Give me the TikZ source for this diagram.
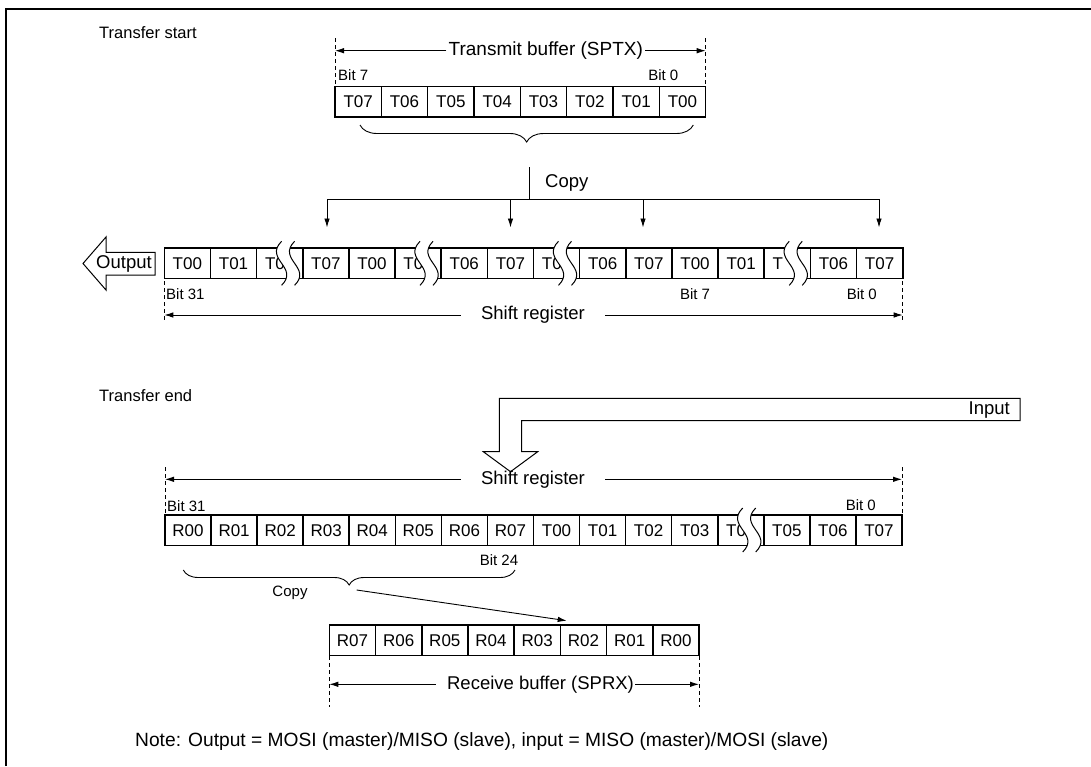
\documentclass[tikz,border=0pt]{standalone}
\usepackage{fontspec}
\setmainfont{Liberation Sans}
\usetikzlibrary{arrows.meta,decorations.pathreplacing}
\begin{document}
\begin{tikzpicture}[x=1pt,y=-1pt,
  cell/.style={draw,line width=1.6pt,minimum height=30.5pt,inner sep=0pt,font=\fontsize{17}{18}\selectfont},
  lbl/.style={font=\fontsize{18.5}{20}\selectfont,inner sep=0pt},
  small/.style={font=\fontsize{15}{16}\selectfont,inner sep=0pt},
  note/.style={font=\fontsize{16.5}{18}\selectfont,inner sep=0pt},
  thin/.style={line width=0.9pt},
  dim/.style={line width=0.9pt,-{Latex[length=9pt,width=5.5pt]}},
  dashln/.style={line width=0.8pt,dash pattern=on 4pt off 3pt},
  hollow/.style={line width=1pt,fill=white,line join=miter},
  brk/.pic={
    \fill[white] (0,0) .. controls (-18,18) and (18,26) .. (0,44) -- (13,44) .. controls (31,26) and (-5,18) .. (13,0) -- cycle;
    \draw[line width=1pt] (0,0) .. controls (-18,18) and (18,26) .. (0,44);
    \draw[line width=1pt] (13,0) .. controls (-5,18) and (31,26) .. (13,44);
  }
]
\useasboundingbox (0,0) rectangle (1091,766);
\fill[white] (0,0) rectangle (1091,766);
% frame
\draw[line width=2pt] (6,766) -- (6,8.5) -- (1091,8.5);

% ---------- Transfer start ----------
\node[note,anchor=base west] (tstart) at (99,38) {Transfer start};

% transmit buffer
\foreach \t [count=\i from 0] in {T07,T06,T05,T04,T03,T02,T01,T00}
  \node[cell,minimum width=46.33pt] (tx\i) at (335+\i*46.33+23.165,101.7) {\t};
\draw[dashln] (335,38) -- (335,85);
\draw[dashln] (705.7,38) -- (705.7,85);
\node[lbl,font=\fontsize{19}{20}\selectfont,inner xsep=2pt] (tbuf) at (545.8,50.7) {Transmit buffer (SPTX)};
\coordinate (tbL) at (335,50.7);
\coordinate (tbR) at (705.7,50.7);
\draw[dim] (tbuf.west) -- (tbL);
\draw[dim] (tbuf.east) -- (tbR);
\node[small,anchor=west] (tb7) at (338,75) {Bit 7};
\node[small,anchor=east] (tb0) at (678.5,75) {Bit 0};
\draw[thin,decorate,decoration={brace,amplitude=17pt,mirror}] (360,125) -- (693.3,125);

% copy tree
\coordinate (cpA) at (529,167);
\coordinate (cpB) at (529,199);
\coordinate (hL) at (327,199);
\coordinate (hR) at (879,199);
\draw[thin] (cpA) -- (cpB);
\draw[thin] (hL) -- (hR);
\node[lbl,anchor=west] (copy1) at (545,182.7) {Copy};
\foreach \x/\n in {327/a,510.5/b,643/c,879/d}{
  \coordinate (s\n) at (\x,199);
  \coordinate (e\n) at (\x,227.5);
  \draw[dim] (s\n) -- (e\n);
}

% shift register (start)
\foreach \t [count=\i from 0] in {T00,T01,{T0\phantom{0}},T07,T00,{T0\phantom{0}},T06,T07,{T0\phantom{0}},T06,T07,T00,T01,{T\phantom{00}},T06,T07}
  \node[cell,minimum width=46.15pt] (sa\i) at (164.3+\i*46.15+23.075,263.3) {\t};
\foreach \i in {2,5,8,13}
  \pic at (164.3+\i*46.15+25,241.3) {brk};
\draw[dashln] (164.3,281) -- (164.3,322);
\draw[dashln] (902.7,281) -- (902.7,322);
\node[small,anchor=west] (sa31) at (166,294) {Bit 31};
\node[small] (sa7) at (695,294) {Bit 7};
\node[small,anchor=east] (sa0) at (877,294) {Bit 0};
\node[lbl,inner xsep=20pt] (sreg1) at (533,315) {Shift register};
\coordinate (s1L) at (164.3,315);
\coordinate (s1R) at (902.7,315);
\draw[dim] (sreg1.west) -- (s1L);
\draw[dim] (sreg1.east) -- (s1R);

% output arrow
\draw[hollow] (155,252.3) -- (106,252.3) -- (106,237) -- (83,263.5) -- (106,290) -- (106,275) -- (155,275) -- cycle;
\node[lbl] (out) at (124,263.5) {Output};

% ---------- Transfer end ----------
\node[note,anchor=base west] (tend) at (99,401.7) {Transfer end};

% input arrow
\draw[hollow] (1020,398.3) -- (499.3,398.3) -- (499.3,451.7) -- (483.3,451.7) -- (510.5,471.7) -- (537.7,451.7) -- (521.7,451.7) -- (521.7,420.7) -- (1020,420.7) -- cycle;
\node[lbl,anchor=east] (inp) at (1010,410) {Input};

% shift register (end)
\node[lbl,inner xsep=20pt] (sreg2) at (533,479.3) {Shift register};
\coordinate (s2L) at (165,479.3);
\coordinate (s2R) at (902,479.3);
\draw[dim] (sreg2.west) -- (s2L);
\draw[dim] (sreg2.east) -- (s2R);
\draw[dashln] (165,467) -- (165,514);
\draw[dashln] (902,467) -- (902,514);
\node[small,anchor=west] (sb31) at (167,506) {Bit 31};
\node[small,anchor=east] (sb0) at (876,505) {Bit 0};
\foreach \t [count=\i from 0] in {R00,R01,R02,R03,R04,R05,R06,R07,T00,T01,T02,T03,{T0\phantom{0}},T05,T06,T07}
  \node[cell,minimum width=46.06pt] (sb\i) at (165+\i*46.06+23.03,530.4) {\t};
\pic at (165+12*46.06+25,508) {brk};
\node[small] (sb24) at (499,560) {Bit 24};
\draw[thin,decorate,decoration={brace,amplitude=15pt,mirror}] (183.3,570) -- (515,570);
\node[font=\fontsize{15}{16}\selectfont,inner sep=0pt] (copy2) at (290,593) {Copy};
\coordinate (brTip) at (356.7,590);
\coordinate (rbIn) at (566.7,620.7);
\draw[dim] (brTip) -- (rbIn);

% receive buffer
\foreach \t [count=\i from 0] in {R07,R06,R05,R04,R03,R02,R01,R00}
  \node[cell,minimum width=46.21pt] (rx\i) at (329.3+\i*46.21+23.105,640.3) {\t};
\draw[dashln] (329.3,656) -- (329.3,707);
\draw[dashln] (699,656) -- (699,707);
\node[lbl,inner xsep=1pt] (rbuf) at (540.5,684.3) {Receive buffer (SPRX)};
\coordinate (rbL) at (329.3,684.3);
\coordinate (rbR) at (699,684.3);
\draw[dim] ([xshift=-10pt]rbuf.west) -- (rbL);
\draw[dim] (rbuf.east) -- (rbR);

% note
\node[font=\fontsize{19.2}{20}\selectfont,inner sep=0pt,anchor=base west] (nt) at (135,746.7) {Note: Output = MOSI (master)/MISO (slave), input = MISO (master)/MOSI (slave)};
\end{tikzpicture}
\end{document}
